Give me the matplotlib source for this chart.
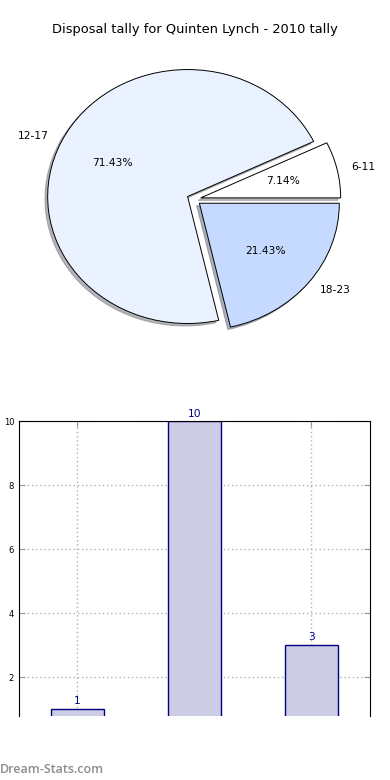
import matplotlib
matplotlib.use("Agg")
import matplotlib.pyplot as plt

categories = ['6-11', '12-17', '18-23']
values = [1, 10, 3]
pie_colors = ['#ffffff', '#ebf2ff', '#c6d9ff']
yticks = [2, 4, 6, 8, 10]
title = 'Disposal tally for Quinten Lynch - 2010 tally'

fig = plt.figure(figsize=(3.9, 7.8), dpi=100)

# Pie
axp = fig.add_axes([0.0487, 0.541, 0.897, 0.407])
wedges, texts, autotexts = axp.pie(values, labels=categories, colors=pie_colors,
                                   explode=[0.05] * len(values),
                                   shadow={'ox': -0.014, 'oy': -0.014, 'shade': 0.55},
                                   autopct='%.2f%%', startangle=0,
                                   wedgeprops=dict(edgecolor='black', linewidth=0.7),
                                   textprops=dict(fontsize=7.7))
axp.set_aspect('auto')
axp.set_xlim(-1.25, 1.25)
axp.set_ylim(-1.25, 1.25)
fig.text(0.5, 0.962, title, ha='center', va='center', fontsize=9.4)

# Bars
axb = fig.add_axes([0.0487, 0.082, 0.9, 0.378])
x = list(range(len(values)))
axb.bar(x, values, width=0.45, color='#ccccE4', edgecolor='#000080', linewidth=1, zorder=2)
for xi, v in zip(x, values):
    axb.text(xi, v + 0.08, str(v), ha='center', va='bottom', fontsize=7.7, color='#000080')
axb.set_xlim(-0.5, 2.5)
axb.set_ylim(0.78, 10)
axb.set_yticks(yticks)
axb.set_xticks(x)
axb.set_xticklabels([])
axb.tick_params(axis='y', direction='in', labelsize=6, left=True, right=True, length=4, color='#999999')
axb.tick_params(axis='x', direction='in', bottom=False, top=True, length=4, color='#999999')
axb.grid(True, linestyle=(0, (1, 2)), color='#b0b0b0', linewidth=1, zorder=0)
axb.set_axisbelow(True)
axb.spines['bottom'].set_visible(False)
axb.set_ylabel('Number of games', fontsize=7)
axb.yaxis.set_label_coords(-0.057, 0.46)

fig.text(0.0, 0.013, 'Dream-Stats.com', ha='left', va='center', fontsize=9,
         color='#8c8c8c', family='Open Sans', weight='semibold')

fig.savefig('out.png', dpi=100)
